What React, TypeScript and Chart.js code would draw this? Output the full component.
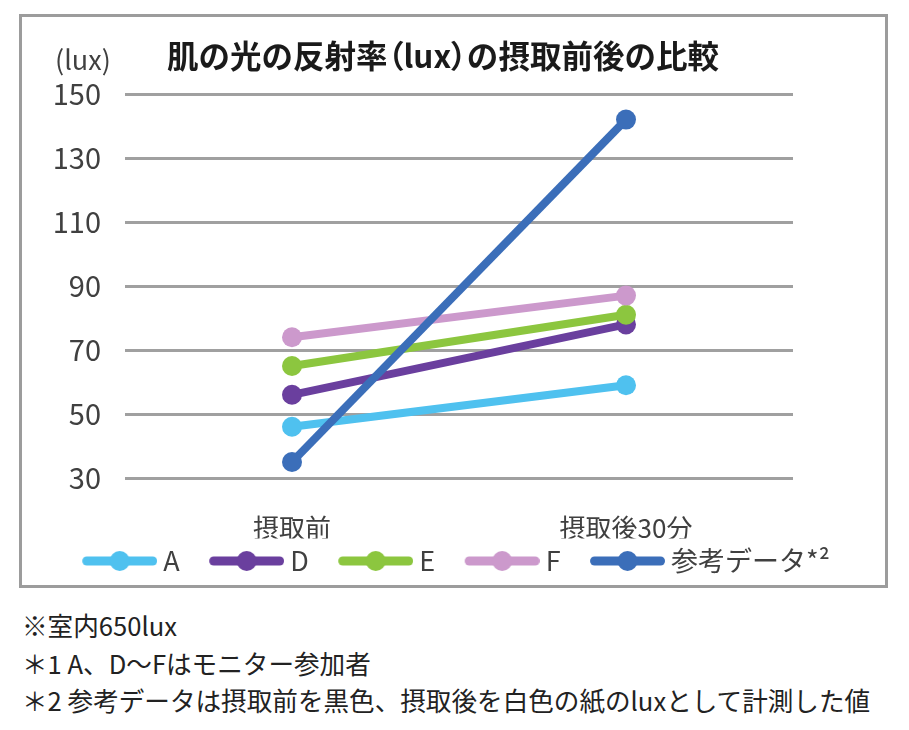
import React, { useEffect, useRef } from 'react';
import { Chart, registerables } from 'chart.js';

Chart.register(...registerables);

const FONT = '"Noto Sans CJK JP", "Noto Sans", sans-serif';

const categories = ['摂取前', '摂取後30分'];
const seriesNames = ['A', 'D', 'E', 'F', '参考データ'];
const legendLabels = ['A', 'D', 'E', 'F', '参考データ*²'];
const valuesA = [46, 59];
const valuesD = [56, 78];
const valuesE = [65, 81];
const valuesF = [74, 87];
const valuesRef = [35, 142];
const seriesValues = [valuesA, valuesD, valuesE, valuesF, valuesRef];
const seriesColors = ['#4fc1ef', '#6a3f9e', '#8cc63f', '#cc99cc', '#3b6eb9'];
const yMin = 30;
const yMax = 150;
const yStep = 20;

const titleText = '肌の光の反射率（lux）の摂取前後の比較';
const unitText = '(lux)';
const notes = [
  '※室内650lux',
  '＊1 A、D〜Fはモニター参加者',
  '＊2 参考データは摂取前を黒色、摂取後を白色の紙のluxとして計測した値',
];

const LEGEND_BOX = 88;
const ICON_W = LEGEND_BOX + 15;

function makeLegendIcon(color: string): HTMLCanvasElement {
  const c = document.createElement('canvas');
  c.width = ICON_W;
  c.height = 22;
  const ctx = c.getContext('2d')!;
  ctx.strokeStyle = color;
  ctx.lineWidth = 9;
  ctx.lineCap = 'round';
  const x0 = ICON_W - 75;
  ctx.beginPath();
  ctx.moveTo(x0 + 4.5, 11);
  ctx.lineTo(ICON_W - 4.5, 11);
  ctx.stroke();
  ctx.fillStyle = color;
  ctx.beginPath();
  ctx.arc(x0 + 37.5, 11, 10, 0, Math.PI * 2);
  ctx.fill();
  return c;
}

function renderTitle(t: string) {
  return t.split('').map((ch, i) =>
    ch === '（' || ch === '）' ? (
      <span key={i} style={{ fontFeatureSettings: '"palt"' }}>{ch}</span>
    ) : (
      <React.Fragment key={i}>{ch}</React.Fragment>
    )
  );
}

export default function App() {
  const canvasRef = useRef<HTMLCanvasElement | null>(null);

  useEffect(() => {
    if (!canvasRef.current) return;
    const icons = seriesColors.map((c) => makeLegendIcon(c));
    const chart = new Chart(canvasRef.current, {
      type: 'line',
      data: {
        labels: categories,
        datasets: seriesNames.map((name, i) => ({
          label: name,
          data: seriesValues[i],
          yAxisID: 'y',
          borderColor: seriesColors[i],
          backgroundColor: seriesColors[i],
          borderWidth: 8,
          pointRadius: 10,
          pointBorderWidth: 0,
          pointBackgroundColor: seriesColors[i],
          pointHoverRadius: 10,
          tension: 0,
          order: seriesNames.length - i,
        })),
      },
      options: {
        responsive: false,
        animation: false,
        events: [],
        layout: { padding: { left: 16, right: 33.5, top: 94, bottom: 5.5 } },
        scales: {
          x: {
            offset: true,
            grid: { display: false },
            border: { display: false },
            ticks: {
              color: '#404040',
              font: { family: FONT, size: 26 },
              padding: 27,
              maxRotation: 0,
              autoSkip: false,
            },
            afterFit: (scale: any) => {
              scale.height = 60.5;
            },
          },
          y: {
            position: 'left',
            min: yMin,
            max: yMax,
            grid: { color: '#a0a0a0', lineWidth: 3, drawTicks: false },
            border: { display: false },
            ticks: {
              stepSize: yStep,
              color: '#404040',
              font: { family: FONT, size: 29 },
              padding: 24,
            },
            afterFit: (scale: any) => {
              scale.width = 109;
            },
          },
          yR: {
            type: 'linear',
            position: 'right',
            display: true,
            grid: { display: false, drawTicks: false },
            border: { display: false },
            ticks: { display: false },
            afterFit: (scale: any) => {
              scale.width = 82.5;
            },
          },
        },
        plugins: {
          title: { display: false },
          tooltip: { enabled: false },
          legend: {
            display: true,
            position: 'bottom',
            labels: {
              usePointStyle: true,
              pointStyleWidth: LEGEND_BOX,
              padding: 9,
              font: { family: FONT, size: 27 },
              color: '#404040',
              generateLabels: (ch: any) =>
                ch.data.datasets.map((ds: any, i: number) => ({
                  text: legendLabels[i],
                  pointStyle: icons[i],
                  fillStyle: seriesColors[i],
                  strokeStyle: seriesColors[i],
                  lineWidth: 0,
                  hidden: false,
                  datasetIndex: i,
                  fontColor: '#404040',
                })),
            },
          },
        },
      },
    });
    return () => chart.destroy();
  }, []);

  return (
    <div style={{ position: 'absolute', left: 0, top: 0, width: 909, height: 730, overflow: 'hidden', fontFamily: FONT }}>
      <div
        style={{
          position: 'absolute',
          left: 19,
          top: 14,
          width: 869,
          height: 574,
          border: '3px solid #9c9c9c',
          boxSizing: 'border-box',
        }}
      />
      <canvas
        ref={canvasRef}
        width={909}
        height={590}
        style={{ position: 'absolute', left: 0, top: 0, width: 909, height: 590 }}
      />
      <div
        style={{
          position: 'absolute',
          left: 55,
          top: 39,
          fontSize: 27,
          lineHeight: '40px',
          color: '#404040',
          whiteSpace: 'nowrap',
        }}
      >
        {unitText}
      </div>
      <div
        style={{
          position: 'absolute',
          left: 167,
          top: 34,
          fontSize: 31.5,
          fontWeight: 'bold',
          lineHeight: '40px',
          color: '#1a1a1a',
          whiteSpace: 'nowrap',
        }}
      >
        {renderTitle(titleText)}
      </div>
      <div
        style={{
          position: 'absolute',
          left: 22,
          top: 606,
          fontSize: 25.6,
          lineHeight: '37.5px',
          color: '#222',
          whiteSpace: 'nowrap',
        }}
      >
        {notes.map((n, i) => (
          <div key={i}>{n}</div>
        ))}
      </div>
    </div>
  );
}
